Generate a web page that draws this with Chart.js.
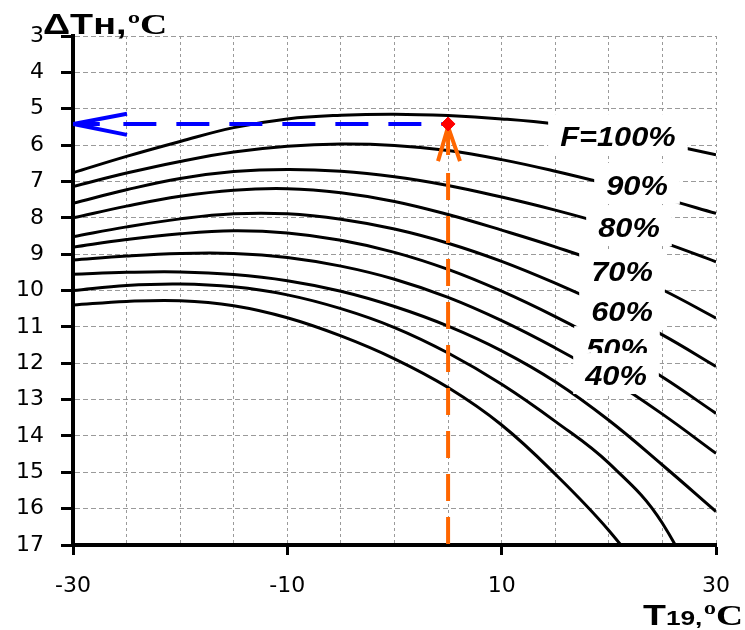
<!DOCTYPE html>
<html>
<head>
<meta charset="utf-8">
<script src="https://cdn.jsdelivr.net/npm/chart.js@4.4.1/dist/chart.umd.min.js"></script>
<style>
    body { margin: 0; background: #fff; }
    #wrap { width: 745px; height: 630px; position: relative; }
</style>
</head>
<body>
<div id="wrap"><canvas id="chart"></canvas></div>
<script>
// Outdoor temperature T19, °C (x axis)
const T19 = [-30, -25, -20, -15, -10, -5, 0, 5, 10, 15, 20, 25, 30];

// ΔTн for each load level F
const F100 = [6.76, 6.31, 5.90, 5.52, 5.28, 5.18, 5.15, 5.19, 5.28, 5.42, 5.65, 5.95, 6.27];
const F90 = [7.14, 6.77, 6.45, 6.19, 6.03, 5.97, 6.01, 6.15, 6.40, 6.72, 7.08, 7.46, 7.88];
const F80 = [7.60, 7.23, 6.92, 6.73, 6.67, 6.72, 6.87, 7.11, 7.43, 7.79, 8.20, 8.67, 9.21];
const F70 = [8.00, 7.68, 7.41, 7.24, 7.20, 7.31, 7.55, 7.91, 8.34, 8.80, 9.32, 9.98, 10.76];
const F60 = [8.52, 8.25, 8.03, 7.89, 7.89, 8.04, 8.31, 8.70, 9.20, 9.80, 10.47, 11.22, 12.09];
const F50 = [8.81, 8.60, 8.44, 8.36, 8.42, 8.62, 8.95, 9.42, 10.02, 10.72, 11.50, 12.38, 13.38];
const F40 = [9.16, 9.05, 8.98, 8.98, 9.09, 9.33, 9.69, 10.19, 10.83, 11.58, 12.42, 13.40, 14.48];
const F30 = [9.55, 9.50, 9.49, 9.56, 9.73, 10.02, 10.44, 10.98, 11.66, 12.51, 13.57, 14.80, 16.08];
const F20 = [10.00, 9.86, 9.82, 9.90, 10.12, 10.50, 11.02, 11.72, 12.58, 13.60, 14.75, 16.40, 19.40];
const F10 = [10.40, 10.30, 10.28, 10.42, 10.75, 11.25, 11.88, 12.67, 13.70, 15.05, 16.60, 18.50, 20.60];
const SERIES = [F100, F90, F80, F70, F60, F50, F40, F30, F20, F10];

const X_TICK_LABELS = [-30, -10, 10, 30];

// worked example: T19 = 5 -> ΔTн = 5.42
const POINT_T = [5];
const POINT_DT = [5.42];
const ORANGE_DASH_X = [5, 5];
const ORANGE_DASH_Y = [6.77, 17];
const ORANGE_HEAD_X = [4.06, 5, 6.11, 5, 5, 5];
const ORANGE_HEAD_Y = [6.44, 5.50, 6.44, null, 5.50, 6.27];
const BLUE_DASH_X = [-25.3, 5];
const BLUE_DASH_Y = [5.42, 5.42];
const BLUE_HEAD_X = [-24.96, -30, -24.96, -30, -30, -27.5];
const BLUE_HEAD_Y = [5.14, 5.42, 5.72, null, 5.42, 5.42];

// curve labels, placed in data units
const CURVE_LABELS = [
    { text: 'F=100%', x: 20.85, y: 5.81 },
    { text: '90%', x: 22.63, y: 7.15 },
    { text: '80%', x: 21.88, y: 8.31 },
    { text: '70%', x: 21.23, y: 9.52 },
    { text: '60%', x: 21.23, y: 10.62 },
    { text: '50%', x: 20.76, y: 11.64 },
    { text: '40%', x: 20.67, y: 12.38 }
];

const pts = (xs, ys) => xs.map((x, i) => ({ x: x, y: ys[i] }));
const X_FONT = { family: '"DejaVu Sans", sans-serif', size: 22, lineHeight: 1.55 };
const Y_FONT = { family: '"DejaVu Sans", sans-serif', size: 22 };
const CLIP = { left: 0, top: 0, right: 0, bottom: 0 };

function curveDatasets() {
    return SERIES.map(s => ({
        data: pts(T19, s),
        borderColor: '#000',
        borderWidth: 3,
        pointRadius: 0,
        tension: 0.4,
        clip: CLIP,
        order: 2
    }));
}

function guideDatasets() {
    return [{
        data: pts(POINT_T, POINT_DT),
        showLine: false,
        pointStyle: 'rectRot',
        pointRadius: 7,
        pointBackgroundColor: '#ff0000',
        pointBorderColor: '#ff0000',
        order: 0
    }, {
        data: pts(ORANGE_DASH_X, ORANGE_DASH_Y),
        borderColor: '#ff6600',
        borderWidth: 4,
        borderDash: [27, 16],
        pointRadius: 0,
        clip: CLIP,
        order: 1
    }, {
        data: pts(ORANGE_HEAD_X, ORANGE_HEAD_Y),
        borderColor: '#ff6600',
        borderWidth: 4,
        pointRadius: 0,
        spanGaps: false,
        order: 1
    }, {
        data: pts(BLUE_DASH_X, BLUE_DASH_Y),
        borderColor: '#0000ff',
        borderWidth: 4,
        borderDash: [33, 20],
        pointRadius: 0,
        order: 1
    }, {
        data: pts(BLUE_HEAD_X, BLUE_HEAD_Y),
        borderColor: '#0000ff',
        borderWidth: 4,
        pointRadius: 0,
        spanGaps: false,
        order: 1
    }];
}

const overlayPlugin = {
    id: 'overlay',
    afterDatasetsDraw(chart) {
        const { ctx, scales: { x, y } } = chart;
        ctx.save();
        ctx.font = 'italic bold 28px "Liberation Sans", Arial, sans-serif';
        ctx.textAlign = 'center';
        ctx.textBaseline = 'middle';
        CURVE_LABELS.forEach(l => {
            const cx = x.getPixelForValue(l.x);
            const cy = y.getPixelForValue(l.y);
            const w = ctx.measureText(l.text).width * 1.1;
            ctx.fillStyle = '#fff';
            ctx.fillRect(cx - w / 2 - 12, cy - 24, w + 24, 41);
            ctx.save();
            ctx.translate(cx, cy);
            ctx.scale(1.1, 1);
            ctx.fillStyle = '#000';
            ctx.fillText(l.text, 0, 0);
            ctx.restore();
        });
        ctx.restore();
    },
    afterDraw(chart) {
        const ctx = chart.ctx;
        ctx.save();
        ctx.fillStyle = '#000';
        ctx.textBaseline = 'alphabetic';

        // y axis title
        ctx.save();
        ctx.translate(43, 34);
        ctx.scale(1.3, 1);
        ctx.font = 'bold 29px "Liberation Sans", Arial, sans-serif';
        ctx.fillText('ΔTн,', 0, 0);
        let w = ctx.measureText('ΔTн,').width;
        ctx.font = 'bold 29px "Liberation Serif", serif';
        ctx.fillText('ºC', w + 1, 0);
        ctx.restore();

        // x axis title
        ctx.save();
        ctx.translate(643, 625);
        ctx.scale(1.25, 1);
        ctx.font = 'bold 30px "Liberation Sans", Arial, sans-serif';
        ctx.fillText('T', 0, 0);
        w = ctx.measureText('T').width;
        ctx.font = 'bold 21px "Liberation Sans", Arial, sans-serif';
        ctx.fillText('19,', w, 0);
        w += ctx.measureText('19,').width;
        ctx.font = 'bold 30px "Liberation Serif", serif';
        ctx.fillText('ºC', w + 1, 0);
        ctx.restore();

        ctx.restore();
    }
};

new Chart(document.getElementById('chart'), {
    type: 'line',
    data: { datasets: guideDatasets().concat(curveDatasets()) },
    options: {
        responsive: true,
        maintainAspectRatio: false,
        animation: false,
        layout: { padding: { left: 0, right: 29, top: 36, bottom: 0 } },
        plugins: { legend: { display: false }, tooltip: { enabled: false } },
        scales: {
            x: {
                type: 'linear',
                min: -30,
                max: 30,
                ticks: {
                    stepSize: 5,
                    autoSkip: false,
                    maxRotation: 0,
                    padding: 14,
                    color: '#000',
                    font: X_FONT,
                    callback: v => X_TICK_LABELS.includes(v) ? String(v) : ''
                },
                grid: {
                    color: '#9a9a9a',
                    lineWidth: 1,
                    tickLength: 10,
                    tickWidth: 3,
                    tickColor: c => X_TICK_LABELS.includes(c.tick.value) ? '#000' : 'rgba(0,0,0,0)'
                },
                border: { color: '#000', width: 4, dash: [3, 3] },
                afterFit: s => { s.height = 85; }
            },
            y: {
                type: 'linear',
                reverse: true,
                min: 3,
                max: 17,
                ticks: { stepSize: 1, autoSkip: false, padding: 17, color: '#000', font: Y_FONT },
                grid: { color: '#9a9a9a', lineWidth: 1, tickLength: 12, tickWidth: 3, tickColor: '#000' },
                border: { color: '#000', width: 4, dash: [5, 3] },
                afterFit: s => { s.width = 73; }
            }
        }
    },
    plugins: [overlayPlugin]
});
</script>
</body>
</html>
